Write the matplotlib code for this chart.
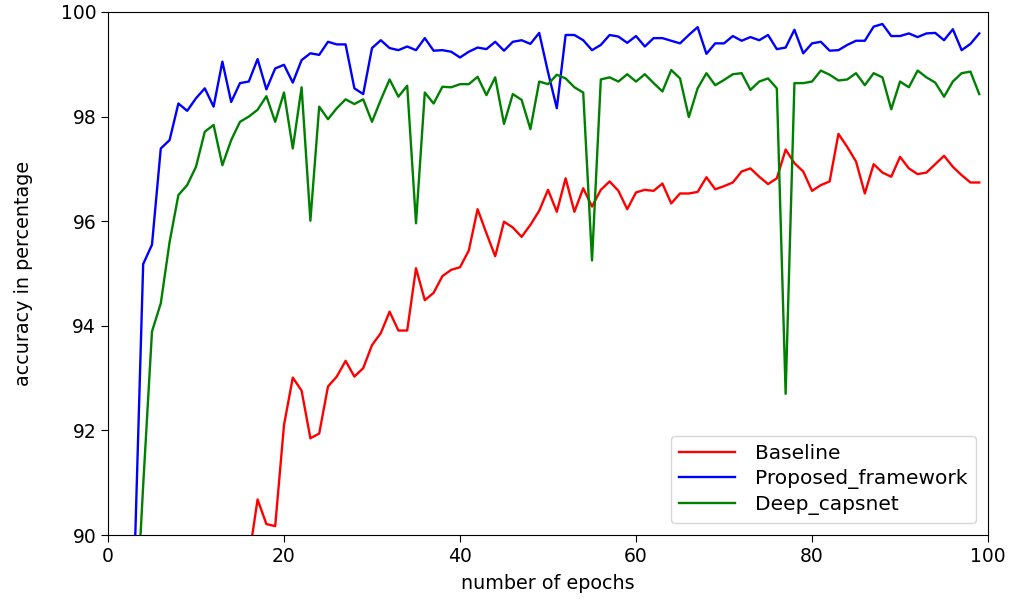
import numpy as np
import matplotlib
matplotlib.use('Agg')
import matplotlib.pyplot as plt


########## data (epochs 0..99)

epochs = list(range(100))

# Baseline (red); first epochs sit below the visible range
baseline = [
    80.0, 81.2, 82.1, 83.0, 83.8, 84.5, 85.1, 85.7, 86.2, 86.7,
    87.1, 87.5, 87.9, 88.3, 88.7, 89.1, 89.55, 90.68, 90.21, 90.17,
    92.10, 93.01, 92.76, 91.85, 91.94, 92.84, 93.03, 93.33, 93.03, 93.19,
    93.63, 93.86, 94.27, 93.91, 93.91, 95.10, 94.49, 94.63, 94.95, 95.07,
    95.12, 95.44, 96.23, 95.77, 95.33, 95.99, 95.88, 95.70, 95.93, 96.20,
    96.60, 96.18, 96.82, 96.18, 96.63, 96.28, 96.60, 96.76, 96.58, 96.23,
    96.55, 96.60, 96.58, 96.72, 96.34, 96.53, 96.53, 96.56, 96.84, 96.61,
    96.67, 96.74, 96.95, 97.01, 96.85, 96.71, 96.82, 97.37, 97.11, 96.95,
    96.58, 96.69, 96.76, 97.67, 97.42, 97.14, 96.53, 97.09, 96.93, 96.85,
    97.23, 97.01, 96.90, 96.93, 97.09, 97.25, 97.04, 96.88, 96.74, 96.74,
]

# Proposed_framework (blue)
proposed = [
    70.0, 78.0, 84.5, 89.4, 95.18, 95.55, 97.39, 97.55, 98.25, 98.11,
    98.35, 98.54, 98.19, 99.05, 98.28, 98.64, 98.67, 99.10, 98.52, 98.92,
    98.99, 98.65, 99.08, 99.21, 99.18, 99.43, 99.38, 99.38, 98.54, 98.43,
    99.31, 99.46, 99.31, 99.27, 99.34, 99.27, 99.50, 99.26, 99.27, 99.24,
    99.13, 99.24, 99.32, 99.29, 99.43, 99.26, 99.43, 99.46, 99.39, 99.60,
    98.85, 98.16, 99.56, 99.56, 99.46, 99.27, 99.37, 99.56, 99.53, 99.41,
    99.54, 99.34, 99.50, 99.50, 99.45, 99.40, 99.56, 99.71, 99.20, 99.40,
    99.40, 99.54, 99.45, 99.52, 99.46, 99.56, 99.29, 99.32, 99.66, 99.21,
    99.40, 99.43, 99.26, 99.27, 99.37, 99.45, 99.45, 99.72, 99.77, 99.54,
    99.54, 99.59, 99.52, 99.59, 99.60, 99.46, 99.67, 99.27, 99.39, 99.59,
]

# Deep_capsnet (green)
deep_capsnet = [
    65.0, 74.0, 82.0, 87.8, 90.95, 93.89, 94.43, 95.60, 96.50, 96.69,
    97.04, 97.71, 97.84, 97.07, 97.55, 97.90, 98.00, 98.13, 98.39, 97.90,
    98.46, 97.39, 98.56, 96.01, 98.19, 97.95, 98.16, 98.33, 98.24, 98.33,
    97.90, 98.32, 98.71, 98.38, 98.59, 95.96, 98.46, 98.25, 98.57, 98.56,
    98.62, 98.62, 98.76, 98.41, 98.75, 97.86, 98.43, 98.32, 97.76, 98.67,
    98.62, 98.80, 98.73, 98.56, 98.46, 95.25, 98.71, 98.75, 98.67, 98.81,
    98.67, 98.81, 98.64, 98.48, 98.89, 98.73, 97.99, 98.54, 98.83, 98.60,
    98.70, 98.81, 98.83, 98.51, 98.67, 98.73, 98.54, 92.70, 98.64, 98.64,
    98.67, 98.88, 98.80, 98.69, 98.71, 98.83, 98.60, 98.83, 98.75, 98.14,
    98.67, 98.56, 98.88, 98.75, 98.65, 98.38, 98.67, 98.83, 98.86, 98.43,
]


########## draw

fig = plt.figure(figsize=(10.11, 5.99), dpi=100)
ax = fig.add_axes([0.1068, 0.1068, 0.8705, 0.8732])

ax.plot(epochs, baseline, color='red', lw=1.7, label='Baseline')
ax.plot(epochs, proposed, color='blue', lw=1.7, label='Proposed_framework')
ax.plot(epochs, deep_capsnet, color='green', lw=1.7, label='Deep_capsnet')

ax.set_xlim(0, 100)
ax.set_ylim(90, 100)
ax.set_xticks([0, 20, 40, 60, 80, 100])
ax.set_yticks([90, 92, 94, 96, 98, 100])
ax.tick_params(labelsize=13.5, length=5)

ax.set_xlabel('number of epochs', fontsize=13.8, labelpad=6)
ax.set_ylabel('accuracy in percentage', fontsize=13.8, labelpad=20)

ax.legend(loc='lower right', fontsize=14.5, handlelength=2.8,
          handletextpad=1.0, labelspacing=0.3, borderaxespad=0.6)

fig.savefig('out.png', dpi=100)
